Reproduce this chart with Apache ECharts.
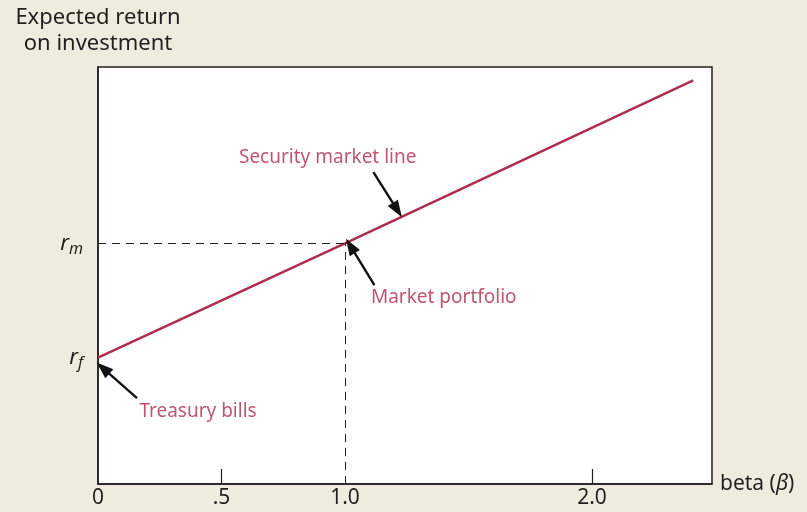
<!DOCTYPE html>
<html>
<head>
<meta charset="utf-8">
<script src="https://cdn.jsdelivr.net/npm/echarts@6/dist/echarts.min.js"></script>
<style>
  html, body { margin: 0; padding: 0; background: #eeebdf; }
  #chart { width: 807px; height: 512px; }
</style>
</head>
<body>
<div id="chart"></div>
<script>
// beta / expected return points of the security market line
const betaPts = [0, 1, 2.41]
const returnPts = [3.03, 5.77, 9.68]
const rf = 3.03
const rm = 5.77
const xLabelVals = [0, 0.5, 1, 2]
const xLabelText = ['0', '.5', '1.0', '2.0']
const xTickVals = [0.5, 2]

// annotation arrows [tail, tip] in data units
const arrows = [
  [[1.115, 7.48], [1.212, 6.57]],
  [[1.119, 4.77], [1.022, 5.71]],
  [[0.158, 2.06], [0.02, 2.78]]
]
const notes = [
  { text: 'Security market line', at: [0.93, 7.82] },
  { text: 'Market portfolio', at: [1.4, 4.46] },
  { text: 'Treasury bills', at: [0.405, 1.73] }
]

const red = '#ae2c4c'
const ink = '#231f20'
const font = 'Noto Sans'

const chart = echarts.init(document.getElementById('chart'))

chart.setOption({
  backgroundColor: '#eeebdf',
  animation: false,
  grid: {
    left: 98, right: 95, top: 67, bottom: 28,
    show: true, backgroundColor: '#fff', borderColor: ink, borderWidth: 1.5
  },
  xAxis: {
    type: 'value', min: 0, max: 2.486,
    name: '{n|beta (}{b|β}{n|)}',
    nameLocation: 'end', nameGap: 8,
    nameTextStyle: {
      verticalAlign: 'middle',
      rich: {
        n: { fontFamily: font, fontSize: 21, color: ink },
        b: { fontFamily: font, fontSize: 21, color: ink, fontStyle: 'italic' }
      }
    },
    axisLine: { show: true, lineStyle: { color: ink, width: 1.5 } },
    axisTick: { show: true, inside: true, length: 15, customValues: xTickVals, lineStyle: { color: ink, width: 1.2 } },
    axisLabel: {
      customValues: xLabelVals, margin: 4,
      fontFamily: font, fontSize: 21, color: ink,
      formatter: v => xLabelText[xLabelVals.indexOf(v)]
    },
    splitLine: { show: false }
  },
  yAxis: {
    type: 'value', min: 0, max: 10,
    name: 'Expected return\non investment',
    nameLocation: 'end', nameGap: 10,
    nameTextStyle: { fontFamily: font, fontSize: 22, color: ink, align: 'center', lineHeight: 26 },
    axisLine: { show: true, lineStyle: { color: ink, width: 1.5 } },
    axisTick: { show: false },
    axisLabel: {
      customValues: [rf, rm], margin: 15,
      formatter: v => v === rf ? '{r|r}{s|f}' : '{r|r}{s|m}',
      rich: {
        r: { fontFamily: font, fontSize: 22, fontStyle: 'italic', color: ink },
        s: { fontFamily: font, fontSize: 16, fontStyle: 'italic', color: ink, verticalAlign: 'bottom', padding: [12, 0, 0, 0] }
      }
    },
    splitLine: { show: false }
  },
  series: [
    {
      type: 'line',
      data: betaPts.map((b, i) => [b, returnPts[i]]),
      showSymbol: false,
      lineStyle: { color: red, width: 2.5 },
      z: 3,
      markLine: {
        silent: true, symbol: 'none',
        label: { show: false },
        lineStyle: { color: ink, type: [8, 6], width: 1 },
        data: [
          [{ coord: [0, rm] }, { coord: [1, rm] }],
          [{ coord: [1, 0] }, { coord: [1, rm] }]
        ]
      }
    },
    {
      type: 'line',
      data: [],
      markLine: {
        silent: true,
        symbol: ['none', 'triangle'], symbolSize: [12, 17],
        label: { show: false },
        lineStyle: { color: '#111', type: 'solid', width: 2.4 },
        itemStyle: { color: '#111' },
        data: arrows.map(a => [{ coord: a[0] }, { coord: a[1] }])
      }
    },
    {
      type: 'scatter',
      symbolSize: 0,
      data: notes.map(n => ({ value: n.at, label: { formatter: n.text } })),
      label: {
        show: true, position: 'inside',
        fontFamily: font, fontSize: 19, color: red
      }
    }
  ]
})
</script>
</body>
</html>
